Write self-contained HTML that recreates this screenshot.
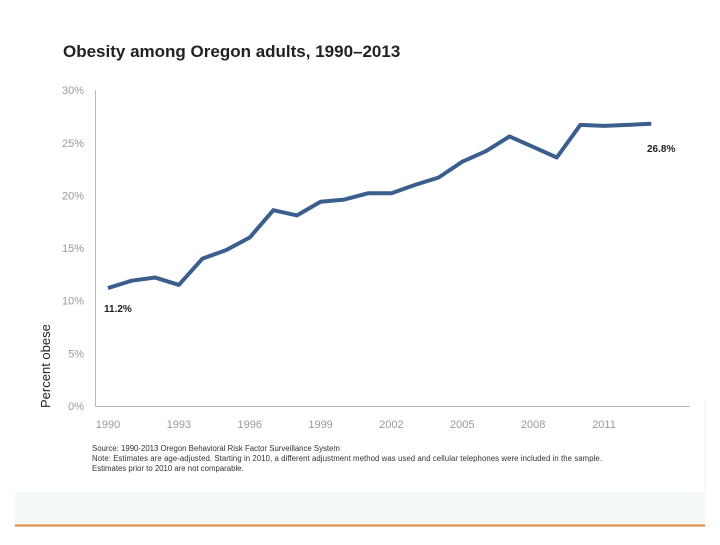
<!DOCTYPE html>
<html><head><meta charset="utf-8"><style>
body{margin:0;width:720px;height:540px;background:#fff;overflow:hidden;font-family:"Liberation Sans",sans-serif}
</style></head><body>
<svg width="720" height="540">
<rect x="15" y="492" width="690" height="33" fill="#f4f8f8"/>
<line x1="15" y1="525.5" x2="705" y2="525.5" stroke="#e0873a" stroke-width="2"/>
<line x1="705" y1="400" x2="705" y2="492" stroke="#eee"/>
<text x="63" y="57" font-size="17" font-weight="bold" fill="#222">Obesity among Oregon adults, 1990–2013</text>
<text transform="translate(50,408) rotate(-90)" font-size="13" fill="#222">Percent obese</text>
<line x1="95.5" y1="90" x2="95.5" y2="406" stroke="#bbb"/>
<line x1="95" y1="406.5" x2="690" y2="406.5" stroke="#bbb"/>
<g id="yt"></g><g id="xt"></g>
<polyline id="line" fill="none" stroke="#3a5f8e" stroke-width="4" stroke-linejoin="round"/>
<text x="104" y="312" font-size="10" font-weight="bold" fill="#222">11.2%</text>
<text x="647" y="152" font-size="10" font-weight="bold" fill="#222">26.8%</text>
<g font-size="7.8" fill="#333">
<text x="92" y="451">Source: 1990-2013 Oregon Behavioral Risk Factor Surveillance System</text>
<text x="92" y="461" textLength="510">Note: Estimates are age-adjusted. Starting in 2010, a different adjustment method was used and cellular telephones were included in the sample.</text>
<text x="92" y="471">Estimates prior to 2010 are not comparable.</text>
</g>
</svg>
<script>
const years=[1990,1991,1992,1993,1994,1995,1996,1997,1998,1999,2000,2001,2002,2003,2004,2005,2006,2007,2008,2009,2010,2011,2012,2013];
const values=[11.2,11.9,12.2,11.5,14.0,14.8,16.0,18.6,18.1,19.4,19.6,20.2,20.2,21.0,21.7,23.2,24.2,25.6,24.6,23.6,26.7,26.6,26.7,26.8];
const yTicks=[0,5,10,15,20,25,30];
const xTicks=[1990,1993,1996,1999,2002,2005,2008,2011];
const X=y=>108+(y-1990)*23.62, Y=v=>406-v*10.53;
const ns="http://www.w3.org/2000/svg";
const line=document.getElementById('line');
line.setAttribute('points',years.map((y,i)=>X(y)+','+Y(values[i])).join(' '));
const yt=document.getElementById('yt');
yTicks.forEach(t=>{const e=document.createElementNS(ns,'text');


e.setAttribute('x',84);e.setAttribute('y',Y(t)+4);e.setAttribute('text-anchor','end');e.setAttribute('font-size','11');e.setAttribute('fill','#999');e.textContent=t+'%';yt.appendChild(e);});
const xt=document.getElementById('xt');
xTicks.forEach(t=>{const e=document.createElementNS(ns,'text');


e.setAttribute('x',X(t));e.setAttribute('y',428);e.setAttribute('text-anchor','middle');e.setAttribute('font-size','11');e.setAttribute('fill','#999');e.textContent=t;xt.appendChild(e);});
</script>
</body></html>
